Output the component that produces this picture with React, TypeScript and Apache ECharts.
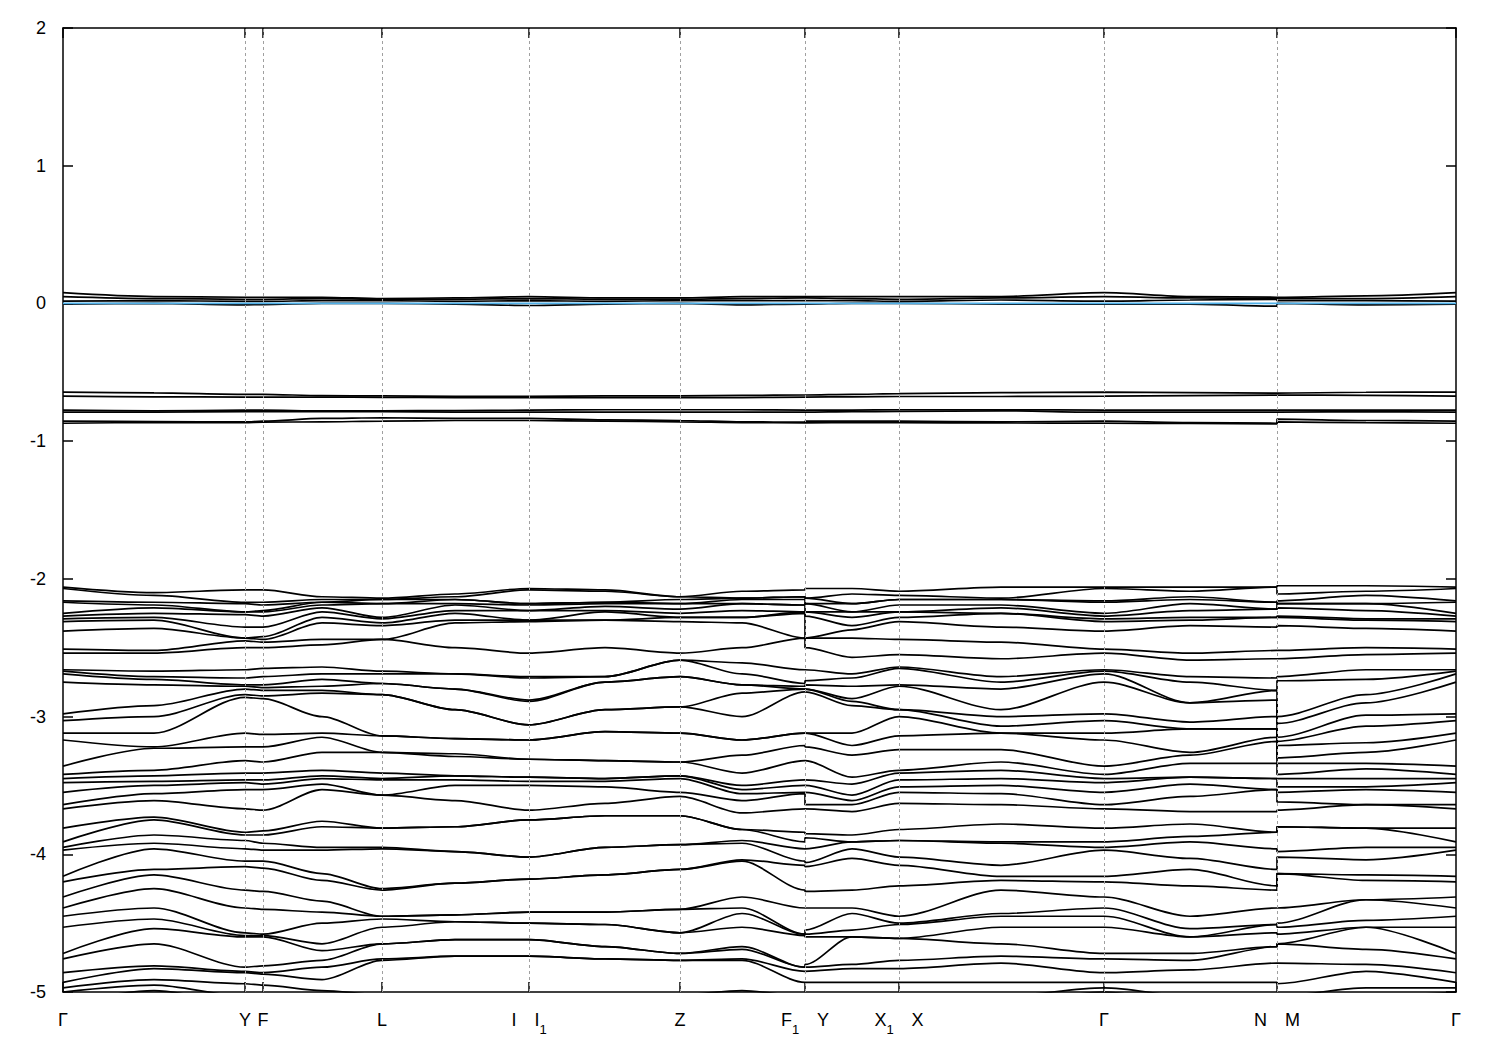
import React, { useEffect, useRef } from "react";
import * as echarts from "echarts";

// k-path positions (cumulative path distance) of the sampled columns
const kPos = [0, 91, 182, 200, 259, 319, 392, 466, 542, 617, 679, 742, 742, 789, 836, 938, 1041, 1127, 1214, 1214, 1303, 1393];
// high-symmetry points
const nodePos = [0, 182, 200, 319, 466, 617, 742, 836, 1041, 1214, 1393];
const nodeLabels = ["Γ", "Y", "F", "L", "I|I1", "Z", "F1|Y", "X1|X", "Γ", "N|M", "Γ"];
const yTicks = [2, 1, 0, -1, -2, -3, -4, -5];

// near-Fermi bands (eV), one value per column
const t1 = [0.078, 0.05, 0.045, 0.045, 0.045, 0.035, 0.04, 0.05, 0.04, 0.04, 0.05, 0.05, 0.05, 0.05, 0.05, 0.05, 0.078, 0.05, 0.045, 0.045, 0.055, 0.078];
const t2 = [0.049, 0.035, 0.03, 0.03, 0.035, 0.03, 0.03, 0.035, 0.03, 0.03, 0.035, 0.04, 0.04, 0.035, 0.03, 0.04, 0.049, 0.04, 0.035, 0.035, 0.035, 0.049];
const t3 = [0.017, 0.02, 0.015, 0.015, 0.02, 0.02, 0.015, 0.02, 0.015, 0.02, 0.02, 0.02, 0.02, 0.02, 0.015, 0.025, 0.017, 0.025, 0.03, 0.02, 0.02, 0.017];
const t4 = [-0.005, 0.0, -0.01, -0.008, 0.0, 0.0, -0.005, -0.015, -0.005, 0.0, -0.01, -0.005, -0.005, 0.0, 0.0, -0.005, -0.005, -0.005, -0.02, 0.0, -0.01, -0.005];
const m1 = [-0.644, -0.65, -0.66, -0.66, -0.67, -0.672, -0.675, -0.675, -0.672, -0.672, -0.668, -0.665, -0.665, -0.66, -0.655, -0.648, -0.644, -0.648, -0.652, -0.648, -0.645, -0.644];
const m2 = [-0.673, -0.678, -0.68, -0.68, -0.68, -0.682, -0.684, -0.684, -0.684, -0.684, -0.684, -0.68, -0.68, -0.678, -0.676, -0.676, -0.673, -0.67, -0.665, -0.665, -0.668, -0.673];
const m3 = [-0.775, -0.78, -0.775, -0.775, -0.78, -0.78, -0.778, -0.775, -0.772, -0.772, -0.772, -0.775, -0.775, -0.775, -0.772, -0.772, -0.775, -0.775, -0.775, -0.775, -0.775, -0.775];
const m4 = [-0.79, -0.79, -0.785, -0.785, -0.786, -0.786, -0.79, -0.79, -0.79, -0.79, -0.79, -0.79, -0.79, -0.786, -0.784, -0.78, -0.79, -0.79, -0.79, -0.787, -0.787, -0.79];
const m5 = [-0.855, -0.858, -0.86, -0.855, -0.835, -0.83, -0.835, -0.835, -0.845, -0.85, -0.86, -0.862, -0.855, -0.855, -0.855, -0.86, -0.855, -0.865, -0.87, -0.84, -0.85, -0.855];
const m6 = [-0.87, -0.865, -0.865, -0.862, -0.86, -0.855, -0.85, -0.85, -0.855, -0.86, -0.865, -0.868, -0.865, -0.865, -0.866, -0.868, -0.87, -0.872, -0.875, -0.86, -0.866, -0.87];

// deep manifold: sorted energies at each column (44 bands)
const gammaCol = [-2.06, -2.07, -2.16, -2.17, -2.25, -2.27, -2.29, -2.31, -2.38, -2.51, -2.54,
  -2.66, -2.67, -2.69, -2.75, -2.98, -3.03, -3.12, -3.17, -3.36, -3.42, -3.45,
  -3.48, -3.55, -3.64, -3.67, -3.81, -3.91, -3.95, -3.97, -4.16, -4.2, -4.31,
  -4.39, -4.45, -4.53, -4.72, -4.76, -4.86, -4.93, -4.97, -5.0, -5.08, -5.15];
const gammaYMid = [-2.1, -2.12, -2.17, -2.19, -2.21, -2.25, -2.28, -2.3, -2.36, -2.52, -2.54,
  -2.67, -2.71, -2.73, -2.77, -2.92, -3.0, -3.12, -3.22, -3.23, -3.39, -3.43,
  -3.47, -3.5, -3.56, -3.61, -3.73, -3.75, -3.86, -3.92, -3.96, -4.11, -4.15,
  -4.25, -4.39, -4.47, -4.54, -4.65, -4.81, -4.83, -4.91, -4.95, -4.99, -5.05];
const yCol = [-2.08, -2.17, -2.18, -2.24, -2.24, -2.26, -2.35, -2.43, -2.43, -2.45, -2.5,
  -2.66, -2.72, -2.77, -2.78, -2.8, -2.84, -2.86, -3.12, -3.22,
  -3.32, -3.41, -3.46, -3.48, -3.53, -3.67,
  -3.84, -3.86, -3.9, -3.96, -4.05, -4.09, -4.26,
  -4.39, -4.57, -4.59, -4.6, -4.82, -4.85, -4.86, -4.94,
  -5.03, -5.08, -5.15];
const fCol = [-2.08, -2.17, -2.19, -2.23, -2.24, -2.27, -2.35, -2.42, -2.44, -2.46, -2.5,
  -2.65, -2.71, -2.77, -2.79, -2.81, -2.85, -2.87, -3.13, -3.22,
  -3.33, -3.41, -3.46, -3.49, -3.53, -3.68,
  -3.83, -3.86, -3.92, -3.97, -4.05, -4.1, -4.27,
  -4.4, -4.58, -4.59, -4.6, -4.81, -4.86, -4.87, -4.95,
  -5.03, -5.08, -5.15];
const fLMid = [-2.13, -2.15, -2.17, -2.17, -2.19, -2.21, -2.24, -2.28, -2.32, -2.44, -2.48,
  -2.64, -2.69, -2.73, -2.78, -2.81, -2.83, -3.0, -3.12, -3.15, -3.26,
  -3.39, -3.43, -3.45, -3.49, -3.53,
  -3.76, -3.8, -3.95, -3.97, -4.14, -4.19,
  -4.34, -4.42, -4.5, -4.65, -4.7, -4.77, -4.82, -4.91, -4.99,
  -5.03, -5.08, -5.15];
const lCol = [-2.14, -2.15, -2.15, -2.18, -2.18, -2.28, -2.29, -2.32, -2.34, -2.44, -2.44,
  -2.67, -2.69, -2.76, -2.76, -2.84, -2.84, -3.14, -3.14, -3.26, -3.26,
  -3.41, -3.45, -3.46, -3.57, -3.57,
  -3.81, -3.81, -3.95, -3.96, -4.25, -4.26,
  -4.45, -4.45, -4.47, -4.53, -4.65, -4.65, -4.76, -4.77,
  -5.02, -5.06, -5.12, -5.2];
const lIMid = [-2.11, -2.13, -2.15, -2.15, -2.18, -2.19, -2.23, -2.25, -2.3, -2.32, -2.5,
  -2.69, -2.69, -2.8, -2.8, -2.95, -2.95, -3.16, -3.16, -3.27, -3.29,
  -3.43, -3.43, -3.46, -3.5, -3.61,
  -3.8, -3.8, -3.98, -3.98, -4.21, -4.21,
  -4.44, -4.44, -4.49, -4.49, -4.62, -4.62, -4.74, -4.74,
  -5.02, -5.06, -5.12, -5.2];
const iCol = [-2.07, -2.08, -2.18, -2.18, -2.19, -2.23, -2.23, -2.3, -2.3, -2.31, -2.54,
  -2.71, -2.72, -2.88, -2.89, -3.06, -3.06, -3.17, -3.17, -3.31, -3.31,
  -3.44, -3.44, -3.47, -3.5, -3.68,
  -3.75, -3.75, -4.02, -4.02, -4.18, -4.18,
  -4.42, -4.42, -4.5, -4.5, -4.62, -4.62, -4.74, -4.74,
  -5.02, -5.06, -5.12, -5.2];
const iZMid = [-2.08, -2.09, -2.17, -2.17, -2.18, -2.2, -2.23, -2.24, -2.3, -2.3, -2.5,
  -2.71, -2.71, -2.75, -2.75, -2.95, -2.95, -3.11, -3.11, -3.32, -3.32,
  -3.45, -3.45, -3.47, -3.51, -3.63,
  -3.72, -3.72, -3.95, -3.95, -4.15, -4.15,
  -4.42, -4.42, -4.51, -4.51, -4.67, -4.67, -4.76, -4.76,
  -5.02, -5.06, -5.12, -5.2];
const zCol = [-2.13, -2.13, -2.15, -2.18, -2.18, -2.22, -2.25, -2.28, -2.28, -2.31, -2.54,
  -2.59, -2.59, -2.71, -2.71, -2.93, -2.93, -3.12, -3.12, -3.33, -3.33,
  -3.43, -3.43, -3.45, -3.55, -3.58,
  -3.72, -3.72, -3.93, -3.93, -4.11, -4.11,
  -4.4, -4.4, -4.57, -4.57, -4.72, -4.72, -4.77, -4.77,
  -5.02, -5.06, -5.12, -5.2];
const zF1Mid = [-2.09, -2.14, -2.14, -2.15, -2.18, -2.18, -2.23, -2.28, -2.28, -2.32, -2.5,
  -2.61, -2.69, -2.77, -2.77, -2.83, -3.0, -3.17, -3.17, -3.28,
  -3.41, -3.5, -3.53, -3.56, -3.61, -3.7,
  -3.82, -3.82, -3.9, -3.92, -4.04, -4.05,
  -4.31, -4.39, -4.43, -4.53, -4.67, -4.69, -4.76, -4.77, -4.99,
  -5.05, -5.1, -5.15];
const f1Col = [-2.08, -2.13, -2.13, -2.15, -2.19, -2.19, -2.24, -2.24, -2.25, -2.43, -2.43,
  -2.66, -2.76, -2.78, -2.8, -2.8, -2.82, -3.12, -3.12, -3.21,
  -3.32, -3.46, -3.5, -3.55, -3.56, -3.67,
  -3.84, -3.91, -3.96, -4.05, -4.08, -4.26,
  -4.39, -4.58, -4.58, -4.59, -4.82, -4.82, -4.85, -4.93,
  -5.03, -5.08, -5.12, -5.18];
const y2Col = [-2.07, -2.14, -2.14, -2.18, -2.18, -2.24, -2.24, -2.27, -2.43, -2.43, -2.5,
  -2.66, -2.74, -2.77, -2.8, -2.8, -2.82, -3.12, -3.12, -3.22,
  -3.32, -3.46, -3.5, -3.55, -3.64, -3.67,
  -3.85, -3.88, -3.96, -4.06, -4.09, -4.27,
  -4.39, -4.55, -4.58, -4.6, -4.8, -4.82, -4.85, -4.93,
  -5.03, -5.08, -5.12, -5.18];
const yX1Mid = [-2.07, -2.11, -2.18, -2.18, -2.24, -2.24, -2.28, -2.34, -2.37, -2.43, -2.57,
  -2.69, -2.72, -2.78, -2.87, -2.89, -2.92, -3.12, -3.21, -3.28,
  -3.44, -3.49, -3.57, -3.61, -3.64, -3.69,
  -3.86, -3.91, -3.91, -3.96, -4.03, -4.26,
  -4.39, -4.43, -4.55, -4.6, -4.6, -4.8, -4.83, -4.93,
  -5.03, -5.08, -5.12, -5.18];
const x1Col = [-2.09, -2.12, -2.15, -2.15, -2.19, -2.24, -2.24, -2.28, -2.31, -2.44, -2.55,
  -2.64, -2.65, -2.77, -2.78, -2.95, -2.95, -3.0, -3.14, -3.24,
  -3.39, -3.41, -3.46, -3.51, -3.55, -3.63,
  -3.82, -3.9, -3.9, -4.02, -4.08, -4.23,
  -4.45, -4.5, -4.51, -4.61, -4.61, -4.77, -4.83, -4.93,
  -5.03, -5.08, -5.12, -5.18];
const xGammaMid = [-2.06, -2.14, -2.15, -2.15, -2.19, -2.21, -2.25, -2.25, -2.35, -2.46, -2.58,
  -2.71, -2.75, -2.8, -2.95, -3.0, -3.07, -3.12, -3.12, -3.24,
  -3.33, -3.39, -3.45, -3.5, -3.56, -3.64,
  -3.78, -3.91, -3.92, -4.08, -4.16, -4.19, -4.26,
  -4.43, -4.45, -4.53, -4.65, -4.74, -4.79, -4.93,
  -5.03, -5.08, -5.12, -5.18];
const gammaNMid = [-2.06, -2.09, -2.13, -2.15, -2.18, -2.23, -2.28, -2.3, -2.34, -2.54, -2.59,
  -2.71, -2.75, -2.9, -2.9, -3.04, -3.09, -3.09, -3.26, -3.28,
  -3.34, -3.44, -3.44, -3.49, -3.58, -3.69,
  -3.78, -3.87, -3.91, -4.03, -4.11, -4.23,
  -4.45, -4.54, -4.6, -4.6, -4.72, -4.77, -4.84, -4.93,
  -5.03, -5.08, -5.12, -5.18];
const nCol = [-2.06, -2.06, -2.17, -2.17, -2.22, -2.22, -2.28, -2.28, -2.35, -2.52, -2.58,
  -2.72, -2.81, -2.81, -2.88, -3.0, -3.09, -3.09, -3.15, -3.18,
  -3.34, -3.45, -3.45, -3.53, -3.53, -3.69,
  -3.84, -3.84, -3.96, -4.11, -4.23, -4.26,
  -4.39, -4.51, -4.51, -4.57, -4.67, -4.67, -4.79, -4.93,
  -5.03, -5.08, -5.12, -5.18];
const mCol = [-2.05, -2.11, -2.16, -2.18, -2.18, -2.21, -2.27, -2.28, -2.34, -2.52, -2.58,
  -2.71, -2.74, -3.0, -3.05, -3.15, -3.18, -3.21, -3.3,
  -3.34, -3.42, -3.45, -3.51, -3.55, -3.62, -3.68,
  -3.8, -3.8, -3.98, -4.02, -4.14, -4.14,
  -4.39, -4.5, -4.53, -4.58, -4.65, -4.65, -4.79, -4.94,
  -5.03, -5.08, -5.12, -5.18];
const mGammaMid = [-2.05, -2.09, -2.12, -2.18, -2.18, -2.23, -2.29, -2.3, -2.36, -2.5, -2.55,
  -2.66, -2.73, -2.84, -2.9, -2.99, -3.07, -3.19, -3.26,
  -3.34, -3.38, -3.45, -3.51, -3.53, -3.64, -3.64,
  -3.81, -3.81, -3.95, -4.04, -4.15, -4.19,
  -4.33, -4.33, -4.48, -4.53, -4.53, -4.69, -4.8, -4.85, -4.97,
  -5.03, -5.08, -5.15];

const FONT = "Liberation Sans, Arial, sans-serif";

function richLabel(lab: string): string {
  return lab
    .split("|")
    .map((p) => {
      const m = p.match(/^(\D+)(\d?)$/);
      if (!m) return `{n|${p}}`;
      return m[2] ? `{n|${m[1]}}{s|${m[2]}}` : `{n|${m[1]}}`;
    })
    .join("{g|}");
}

export default function App() {
  const ref = useRef<HTMLDivElement>(null);
  useEffect(() => {
    if (!ref.current) return;
    const chart = echarts.init(ref.current, null, { renderer: "svg" });
    const columns = [gammaCol, gammaYMid, yCol, fCol, fLMid, lCol, lIMid, iCol, iZMid, zCol, zF1Mid,
      f1Col, y2Col, yX1Mid, x1Col, xGammaMid, gammaCol, gammaNMid, nCol, mCol, mGammaMid, gammaCol];
    const lineCommon = {
      type: "line",
      symbol: "none",
      showSymbol: false,
      silent: true,
      smooth: 0.3,
      smoothMonotone: "x",
      lineStyle: { color: "#000", width: 1.7 },
      itemStyle: { color: "#000" },
      z: 3,
    };
    const series: any[] = [];
    // dashed vertical guides at the high-symmetry points
    series.push({
      type: "line",
      symbol: "none",
      silent: true,
      data: [],
      z: 1,
      markLine: {
        silent: true,
        symbol: ["none", "none"],
        label: { show: false },
        lineStyle: { color: "#a0a0a0", type: [3, 3], width: 1 },
        data: nodePos.slice(1, -1).map((x) => ({ xAxis: x })),
      },
    });
    const nBands = gammaCol.length;
    for (let b = 0; b < nBands; b++) {
      series.push({ ...lineCommon, data: kPos.map((x, c) => [x, columns[c][b]]) });
    }
    [t1, t2, t3, t4, m1, m2, m3, m4, m5, m6].forEach((band) => {
      series.push({ ...lineCommon, data: kPos.map((x, c) => [x, band[c]]) });
    });
    // Fermi level
    series.push({
      type: "line",
      symbol: "none",
      silent: true,
      data: [[nodePos[0], 0], [nodePos[nodePos.length - 1], 0]],
      lineStyle: { color: "#4fb0e8", width: 1.8 },
      z: 4,
    });

    const mkAxisLine = () => ({ show: true, onZero: false, lineStyle: { color: "#000", width: 1.5 } });
    const mkTick = (custom?: number[]) => {
      const t: any = { show: true, inside: true, length: 10, lineStyle: { color: "#000", width: 1.5 } };
      if (custom) t.customValues = custom;
      return t;
    };
    const rich = {
      n: { fontSize: 18, fontFamily: FONT, color: "#000", lineHeight: 22, verticalAlign: "top" },
      s: { fontSize: 13, fontFamily: FONT, color: "#000", lineHeight: 13, padding: [12, 0, 0, 0], verticalAlign: "top" },
      g: { width: 18 },
    };
    chart.setOption({
      animation: false,
      backgroundColor: "#fff",
      grid: { left: 63, right: 44, top: 28, bottom: 58, containLabel: false },
      xAxis: [
        {
          type: "value",
          min: nodePos[0],
          max: nodePos[nodePos.length - 1],
          position: "bottom",
          axisLine: mkAxisLine(),
          splitLine: { show: false },
          axisTick: mkTick(nodePos),
          axisLabel: {
            show: true,
            customValues: nodePos,
            margin: 19,
            formatter: (v: number) => {
              const i = nodePos.indexOf(v);
              return i >= 0 ? richLabel(nodeLabels[i]) : "";
            },
            rich,
          },
        },
        {
          type: "value",
          min: nodePos[0],
          max: nodePos[nodePos.length - 1],
          position: "top",
          axisLine: mkAxisLine(),
          splitLine: { show: false },
          axisTick: mkTick(nodePos),
          axisLabel: { show: false },
        },
      ],
      yAxis: [
        {
          type: "value",
          min: yTicks[yTicks.length - 1],
          max: yTicks[0],
          interval: 1,
          position: "left",
          axisLine: mkAxisLine(),
          splitLine: { show: false },
          axisTick: mkTick(),
          axisLabel: { show: true, margin: 17, fontSize: 18, fontFamily: FONT, color: "#000" },
        },
        {
          type: "value",
          min: yTicks[yTicks.length - 1],
          max: yTicks[0],
          interval: 1,
          position: "right",
          axisLine: mkAxisLine(),
          splitLine: { show: false },
          axisTick: mkTick(),
          axisLabel: { show: false },
        },
      ],
      series,
    });
    return () => chart.dispose();
  }, []);
  return (
    <div
      ref={ref}
      style={{ position: "fixed", left: 0, top: 0, width: 1500, height: 1050, background: "#fff" }}
    />
  );
}
